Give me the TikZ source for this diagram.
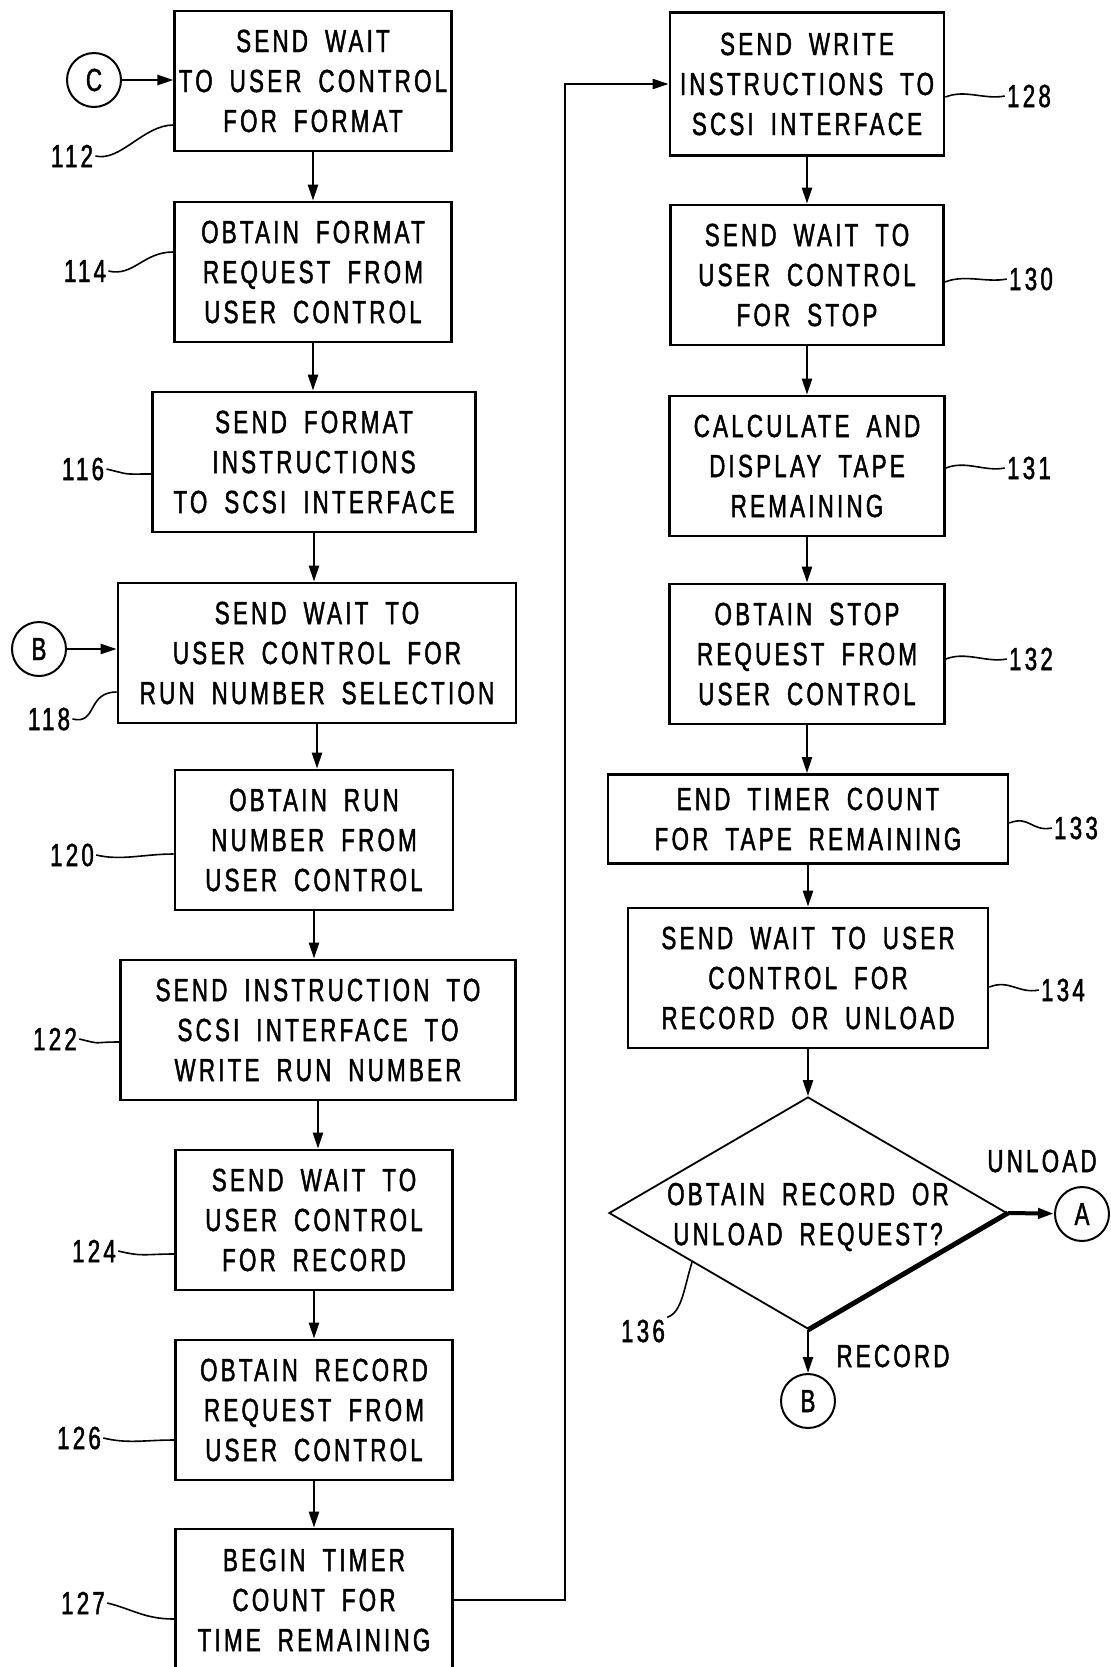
\documentclass[tikz,border=0pt]{standalone}
\usepackage{fontspec}
\setmainfont{Liberation Sans}[FakeStretch=0.7,FakeBold=1.4,LetterSpace=10,WordSpace=1.8]
\usetikzlibrary{shapes.geometric,arrows.meta,calc}
\newcommand{\flowfont}{\fontsize{16}{20}\selectfont}
\tikzstyle{stepbox} = [rectangle, draw=black, line width=1.4pt, align=center, inner sep=2pt, minimum height=70pt, font=\flowfont]
\tikzstyle{joint} = [circle, draw=black, line width=1pt, minimum size=27pt, inner sep=0pt, font=\flowfont]
\tikzstyle{flow} = [line width=1.2pt, -{Triangle[length=8pt,width=5pt]}]
\tikzstyle{leader} = [line width=0.8pt]
\tikzstyle{refnum} = [font=\flowfont, inner sep=1pt]

\begin{document}
\begin{tikzpicture}[x=0.5pt, y=-0.5pt]
	\useasboundingbox (0,0) rectangle (1111,1667);
	\clip (0,0) rectangle (1111,1667);
	\fill[white] (0,0) rectangle (1111,1667);

	% left column
	\node[stepbox, minimum width=137.5pt] (b112) at (313,81) {SEND WAIT\\TO USER CONTROL\\FOR FORMAT};
	\node[stepbox, minimum width=138.5pt] (b114) at (313,272) {OBTAIN FORMAT\\REQUEST FROM\\USER CONTROL};
	\node[stepbox, minimum width=161.5pt] (b116) at (314,462) {SEND FORMAT\\INSTRUCTIONS\\TO SCSI INTERFACE};
	\node[stepbox, minimum width=199pt] (b118) at (317,653) {SEND WAIT TO\\USER CONTROL FOR\\RUN NUMBER SELECTION};
	\node[stepbox, minimum width=139pt] (b120) at (314,840) {OBTAIN RUN\\NUMBER FROM\\USER CONTROL};
	\node[stepbox, minimum width=197.5pt] (b122) at (318,1030) {SEND INSTRUCTION TO\\SCSI INTERFACE TO\\WRITE RUN NUMBER};
	\node[stepbox, minimum width=138.5pt] (b124) at (314,1220) {SEND WAIT TO\\USER CONTROL\\FOR RECORD};
	\node[stepbox, minimum width=138.5pt] (b126) at (314,1410) {OBTAIN RECORD\\REQUEST FROM\\USER CONTROL};
	\node[stepbox, minimum width=138.5pt, minimum height=71pt] (b127) at (314,1600) {BEGIN TIMER\\COUNT FOR\\TIME REMAINING};

	% right column
	\node[stepbox, minimum width=137pt, minimum height=71.5pt] (b128) at (807,84) {SEND WRITE\\INSTRUCTIONS TO\\SCSI INTERFACE};
	\node[stepbox, minimum width=136.5pt] (b130) at (807,275) {SEND WAIT TO\\USER CONTROL\\FOR STOP};
	\node[stepbox, minimum width=137.5pt] (b131) at (807,466) {CALCULATE AND\\DISPLAY TAPE\\REMAINING};
	\node[stepbox, minimum width=137.5pt] (b132) at (807,654) {OBTAIN STOP\\REQUEST FROM\\USER CONTROL};
	\node[stepbox, minimum width=200pt, minimum height=44.5pt] (b133) at (808,819) {END TIMER COUNT\\FOR TAPE REMAINING};
	\node[stepbox, minimum width=180pt] (b134) at (808,978) {SEND WAIT TO USER\\CONTROL FOR\\RECORD OR UNLOAD};
	\node[diamond, draw=black, line width=0.9pt, minimum width=199pt, minimum height=116pt, inner sep=0pt] (q136) at (808,1213) {};
	\node[font=\flowfont, align=center] (t136) at (808,1217) {OBTAIN RECORD OR\\UNLOAD REQUEST?};

	% off-page connectors
	\node[joint] (cC) at (94,80) {C};
	\node[joint] (cB) at (39,649) {B};
	\node[joint] (cA) at (1082,1214) {A};
	\node[joint] (cB2) at (808,1401) {B};
	\node[refnum] (unload) at (1042,1161) {UNLOAD};
	\node[refnum] (record) at (893,1356) {RECORD};

	% flow lines
	\foreach \a/\b in {112/114,114/116,116/118,118/120,120/122,122/124,124/126,126/127,128/130,130/131,131/132,132/133,133/134}
		\draw[flow] (b\a.south) -- (b\a.south |- b\b.north);
	\draw[flow] (b134.south) -- (b134.south |- q136.north);
	\draw[flow] (cC.east) -- (cC.east -| b112.west);
	\draw[flow] (cB.east) -- (cB.east -| b118.west);
	\draw[flow] (b127.east) -- ++(111,0) |- (b128.west);
	\draw[line width=2.5pt] (q136.south) -- (q136.east);
	\draw[flow, line width=2pt] (q136.east) -- (cA);
	\draw[flow] (q136.south) -- (cB2);

	% reference numerals, left
	\node[refnum] (l112) at (72,156) {112};
	\node[refnum] (l114) at (85,271) {114};
	\node[refnum] (l116) at (83,469) {116};
	\node[refnum] (l118) at (49,719) {118};
	\node[refnum] (l120) at (72,855) {120};
	\node[refnum] (l122) at (55,1039) {122};
	\node[refnum] (l124) at (94,1251) {124};
	\node[refnum] (l126) at (79,1438) {126};
	\node[refnum] (l127) at (83,1603) {127};
	\foreach \n/\d in {112/44,114/-20,116/12,118/39,120/14,122/12,124/34,126/30,127/19}
		\draw[leader] (l\n.east) .. controls +(25,6) and +(-30,0) .. ($(b\n.west)+(0,\d)$);

	% reference numerals, right
	\node[refnum] (l128) at (1029,96) {128};
	\node[refnum] (l130) at (1031,279) {130};
	\node[refnum] (l131) at (1029,468) {131};
	\node[refnum] (l132) at (1031,659) {132};
	\node[refnum] (l133) at (1076,828) {133};
	\node[refnum] (l134) at (1063,990) {134};
	\foreach \n/\d in {128/13,130/7,131/2,132/5,133/4,134/9}
		\draw[leader] ($(b\n.east)+(0,\d)$) .. controls +(20,-8) and +(-20,4) .. (l\n.west);
	\node[refnum] (l136) at (643,1331) {136};
	\draw[leader] (l136.north east) .. controls +(15,-5) and +(-8,25) .. ($(q136.west)!0.42!(q136.south)$);
\end{tikzpicture}
\end{document}
